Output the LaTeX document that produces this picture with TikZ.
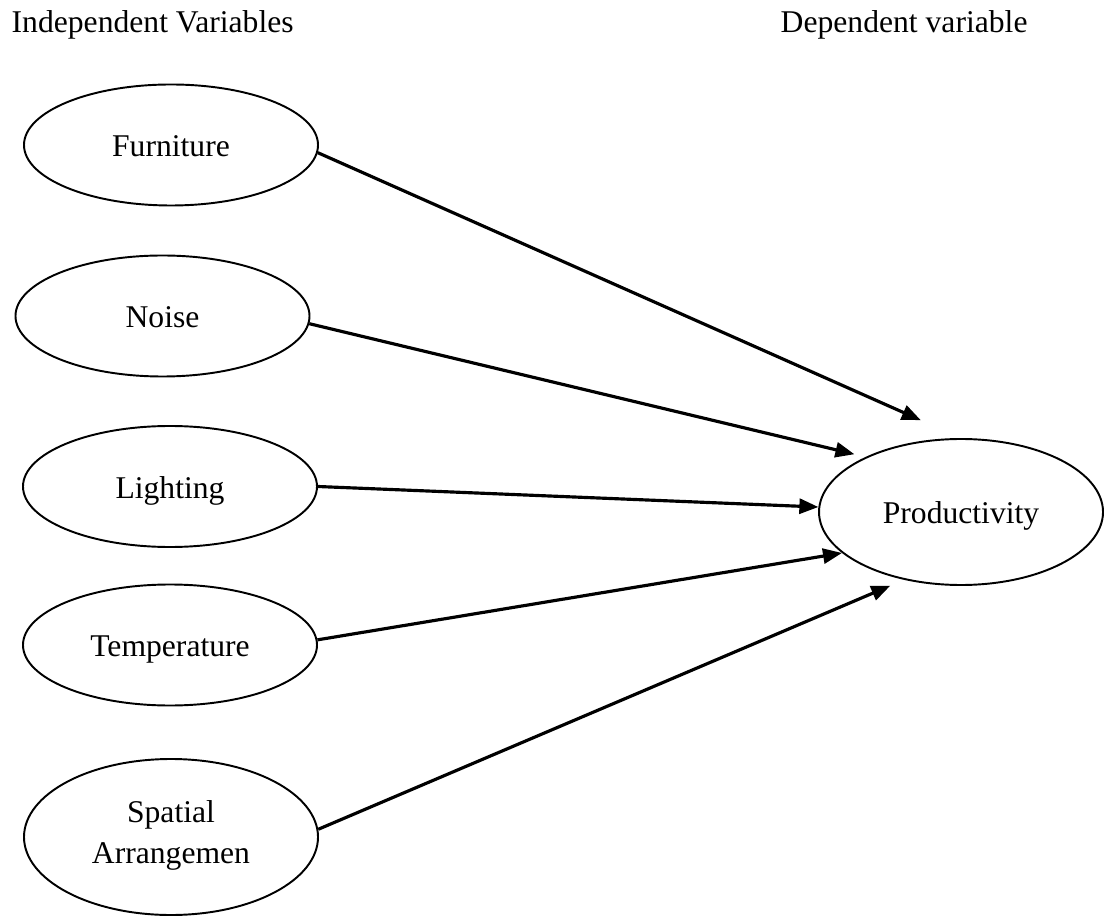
\documentclass[tikz,border=0pt]{standalone}
\usepackage{fontspec}
\setmainfont{Liberation Serif}
\usepackage{tikz}
\usetikzlibrary{shapes.geometric,arrows.meta,positioning}

\begin{document}
\begin{tikzpicture}[font=\fontsize{9pt}{11.6pt}\selectfont,
  var/.style={draw, ellipse, line width=0.55pt, inner sep=0pt,
    minimum width=2.94cm, minimum height=1.21cm, text height=0.66em, text depth=0pt},
  arr/.style={line width=0.9pt, -{Triangle[length=1.9mm,width=1.5mm]}}]
\useasboundingbox (0,0) rectangle (11.04,-9.16);
\node[anchor=base west, inner sep=0pt] (indep) at (0.11,-0.33) {Independent Variables};
\node[anchor=base west, inner sep=0pt] (dep) at (7.80,-0.33) {Dependent variable};
\node[var] (furn) at (1.71,-1.45) {Furniture};
\node[var] (noise) at (1.625,-3.16) {Noise};
\node[var] (light) at (1.70,-4.865) {Lighting};
\node[var] (temp) at (1.70,-6.45) {Temperature};
\node[var, minimum height=1.56cm, align=center, text height=0.73cm, text depth=0.21cm] (spat) at (1.71,-8.37) {Spatial\\Arrangemen};
\node[var, minimum width=2.84cm, minimum height=1.46cm] (prod) at (9.61,-5.12) {Productivity};
\draw[arr, shorten >=0.44cm] (furn.-3) -- (prod.north);
\draw[arr, shorten >=0.115cm] (noise.-3.5) -- (prod.150);
\draw[arr] (light.east) -- (prod.178);
\draw[arr] (temp.2) -- (prod.199);
\draw[arr, shorten >=0.15cm] (spat.3) -- (prod.230);
\end{tikzpicture}
\end{document}
